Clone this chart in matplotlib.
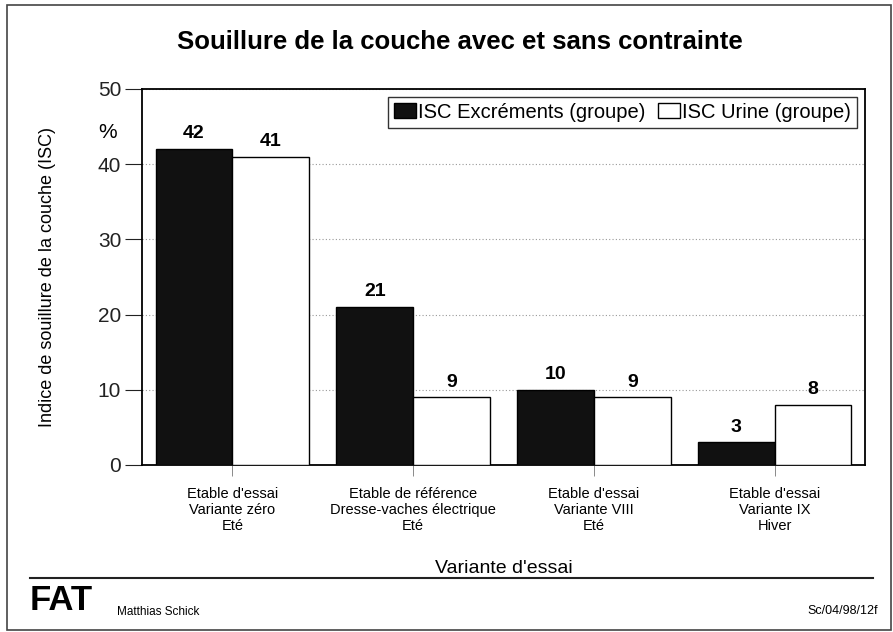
import matplotlib
matplotlib.use("Agg")
import matplotlib.pyplot as plt
import numpy as np
from matplotlib.patches import Rectangle
from matplotlib.lines import Line2D

plt.rcParams['font.family'] = ['Liberation Sans', 'DejaVu Sans']

categories = ["Etable d'essai\nVariante zéro\nEté",
              "Etable de référence\nDresse-vaches électrique\nEté",
              "Etable d'essai\nVariante VIII\nEté",
              "Etable d'essai\nVariante IX\nHiver"]
excrements = [42, 21, 10, 3]
urine = [41, 9, 9, 8]
series_names = ["ISC Excréments (groupe)", "ISC Urine (groupe)"]
yticks = [0, 10, 20, 30, 40, 50]

W, H = 893, 632
fig = plt.figure(figsize=(W / 100, H / 100), dpi=100)
fig.patch.set_facecolor('white')

def fx(px):
    return px / W

def fy(py):
    return 1 - py / H

ax = fig.add_axes([fx(142), fy(465), fx(865) - fx(142), fy(89) - fy(465)])
x = np.arange(len(categories))
bw = 0.425
b1 = ax.bar(x - bw / 2, excrements, bw, color='#111111', edgecolor='black', linewidth=1.0, zorder=3, label=series_names[0])
b2 = ax.bar(x + bw / 2, urine, bw, color='white', edgecolor='black', linewidth=1.0, zorder=3, label=series_names[1])

for rect, v in zip(list(b1) + list(b2), excrements + urine):
    ax.text(rect.get_x() + rect.get_width() / 2, v + 0.9, f"{v}", ha='center', va='bottom',
            fontsize=14, fontweight='bold', zorder=4)

ax.set_xlim(-0.5, len(categories) - 0.5)
ax.set_ylim(0, 50)
ax.set_yticks(yticks)
ax.set_yticklabels([str(t) for t in yticks], fontsize=15)
ax.tick_params(axis='y', direction='out', length=12, width=0.8, pad=3, colors='#222222')
ax.set_xticks(x)
ax.set_xticklabels(categories, fontsize=10.5, linespacing=1.15)
ax.tick_params(axis='x', direction='out', length=8, width=0.6, pad=8, color='#777777')
ax.yaxis.grid(True, linestyle=(0, (1, 2)), color='#999999', linewidth=0.8, zorder=0)
ax.set_axisbelow(True)
for s in ax.spines.values():
    s.set_linewidth(1.3)
    s.set_color('black')

ax.set_ylabel("Indice de souillure de la couche (ISC)", fontsize=13, labelpad=30)
ax.set_xlabel("Variante d'essai", fontsize=14, labelpad=20)
ax.text(-0.048, 0.885, "%", transform=ax.transAxes, ha='center', va='center', fontsize=15)

leg = ax.legend(loc='upper right', bbox_to_anchor=(0.9945, 0.99), ncol=2, fontsize=14.5,
                frameon=True, fancybox=False, edgecolor='black', handlelength=1.1,
                handleheight=0.75, handletextpad=0.1, columnspacing=0.6, borderpad=0.3,
                borderaxespad=0.2)
leg.get_frame().set_linewidth(1.0)

fig.text(fx(460), fy(42), "Souillure de la couche avec et sans contrainte", ha='center', va='center',
         fontsize=18.5, fontweight='bold')

# page frame and footer
fig.add_artist(Rectangle((fx(7), fy(630)), fx(891) - fx(7), fy(5) - fy(630),
                         transform=fig.transFigure, fill=False, edgecolor='#444444', linewidth=1.2))
fig.add_artist(Line2D([fx(30), fx(873)], [fy(578), fy(578)], transform=fig.transFigure,
                      color='#222222', linewidth=1.5))
fig.text(fx(30), fy(600), "FAT", ha='left', va='center', fontsize=25, fontweight='heavy')
fig.text(fx(117), fy(612), "Matthias Schick", ha='left', va='center', fontsize=8.5)
fig.text(fx(878), fy(611), "Sc/04/98/12f", ha='right', va='center', fontsize=9)

fig.savefig("out.png", dpi=100)
